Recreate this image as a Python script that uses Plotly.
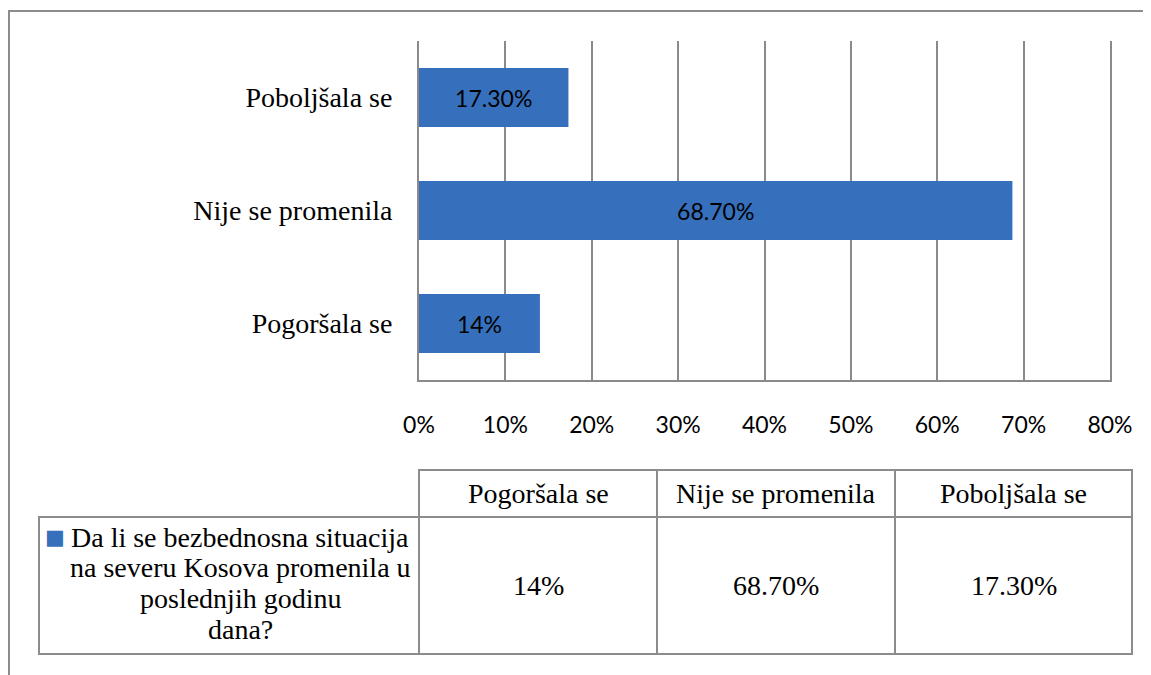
import plotly.graph_objects as go

# ---------------- data ----------------
categories = ["Pogoršala se", "Nije se promenila", "Poboljšala se"]
values = [0.14, 0.687, 0.173]
value_labels = ["14%", "68.70%", "17.30%"]
series_name_lines = [
    "Da li se bezbednosna situacija",
    "na severu Kosova promenila u",
    "poslednjih godinu",
    "dana?",
]
x_tick_vals = [0.0, 0.1, 0.2, 0.3, 0.4, 0.5, 0.6, 0.7, 0.8]
x_tick_labels = ["0%", "10%", "20%", "30%", "40%", "50%", "60%", "70%", "80%"]

# ---------------- layout constants (pixels of the page) ----------------
W, H = 1151, 675
PAGE_OFF = 8                      # default body margin of the html page
PLOT_L, PLOT_R, PLOT_T, PLOT_B = 419, 1110, 41, 380
TABLE_LEFT = 39
COL_W = [380, 238, 238, 237]
ROW_Y = [470, 517, 654]          # header top, header bottom / body top, body bottom
NAME_CX = 240
NAME_LINE_Y0, NAME_LINE_DY = 537, 30.7

BAR_COLOR = "#3670BD"
GRID = "#8a8a8a"
SERIF = "Liberation Serif"
SANS = "Lato"


def px(x):
    return (x - PAGE_OFF) / W


def py(y):
    return 1 - (y - PAGE_OFF) / H


fig = go.Figure(
    go.Bar(
        y=categories,
        x=values,
        orientation="h",
        width=0.52,
        marker=dict(color=BAR_COLOR, line=dict(width=0)),
        text=value_labels,
        textposition="inside",
        insidetextanchor="middle",
        textangle=0,
        insidetextfont=dict(family=SANS, size=23, color="black"),
        showlegend=False,
        hoverinfo="skip",
    )
)

fig.update_layout(
    width=W,
    height=H,
    autosize=False,
    margin=dict(l=0, r=0, t=0, b=0, autoexpand=False),
    paper_bgcolor="white",
    plot_bgcolor="white",
    xaxis=dict(
        domain=[px(PLOT_L), px(PLOT_R)],
        range=[0, 0.8],
        tickvals=x_tick_vals,
        ticktext=x_tick_labels,
        showgrid=True,
        gridcolor=GRID,
        gridwidth=2,
        showline=True,
        linecolor=GRID,
        linewidth=2,
        zeroline=False,
        ticks="",
        ticklabelstandoff=23,
        automargin=False,
        tickfont=dict(family=SANS, size=23, color="black"),
        fixedrange=True,
    ),
    yaxis=dict(
        domain=[py(PLOT_B), py(PLOT_T)],
        range=[-0.5, 2.5],
        categoryorder="array",
        categoryarray=categories,
        showgrid=False,
        showline=True,
        mirror=True,
        linecolor=GRID,
        linewidth=2,
        zeroline=False,
        ticks="",
        ticklabelstandoff=19,
        automargin=False,
        tickfont=dict(family=SERIF, size=28, color="black"),
        fixedrange=True,
    ),
)

shapes = []
annotations = []

# outer chart border (extends beyond right/bottom of view)
shapes.append(dict(type="rect", xref="paper", yref="paper",
                   x0=px(9), x1=px(W + 40), y0=py(H + 40), y1=py(11),
                   line=dict(color="#8c8c8c", width=2), fillcolor="rgba(0,0,0,0)"))

# data table
edges = [TABLE_LEFT]
for w in COL_W:
    edges.append(edges[-1] + w)

line_style = dict(color="#8c8c8c", width=2)
for i in range(1, len(edges) - 1):
    shapes.append(dict(type="rect", xref="paper", yref="paper",
                       x0=px(edges[i]), x1=px(edges[i + 1]),
                       y0=py(ROW_Y[1]), y1=py(ROW_Y[0]), line=line_style))
for i in range(len(edges) - 1):
    shapes.append(dict(type="rect", xref="paper", yref="paper",
                       x0=px(edges[i]), x1=px(edges[i + 1]),
                       y0=py(ROW_Y[2]), y1=py(ROW_Y[1]), line=line_style))

head_cy = (ROW_Y[0] + ROW_Y[1]) / 2
body_cy = (ROW_Y[1] + ROW_Y[2]) / 2
for j, (cat, lab) in enumerate(zip(categories, value_labels)):
    cx = (edges[j + 1] + edges[j + 2]) / 2
    annotations.append(dict(xref="paper", yref="paper", x=px(cx), y=py(head_cy),
                            text=cat, showarrow=False, xanchor="center", yanchor="middle",
                            font=dict(family=SERIF, size=28, color="black")))
    annotations.append(dict(xref="paper", yref="paper", x=px(cx), y=py(body_cy),
                            text=lab, showarrow=False, xanchor="center", yanchor="middle",
                            font=dict(family=SERIF, size=28, color="black")))

for k, line in enumerate(series_name_lines):
    annotations.append(dict(xref="paper", yref="paper", x=px(NAME_CX),
                            y=py(NAME_LINE_Y0 + k * NAME_LINE_DY),
                            text=line, showarrow=False, xanchor="center", yanchor="middle",
                            font=dict(family=SERIF, size=28, color="black")))

# legend key in the table
annotations.append(dict(xref="paper", yref="paper", x=px(55.5), y=py(536.5),
                        text="■", showarrow=False, xanchor="center", yanchor="middle",
                        font=dict(family="DejaVu Sans", size=21, color=BAR_COLOR)))

fig.update_layout(shapes=shapes, annotations=annotations)

fig.write_html("out.html")
